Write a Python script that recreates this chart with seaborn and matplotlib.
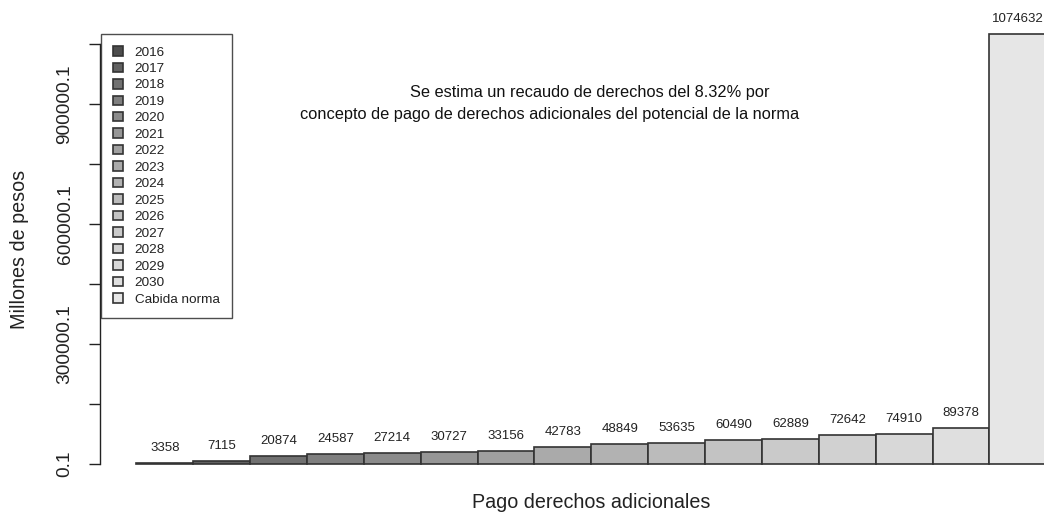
import numpy as np
import pandas as pd
import matplotlib
matplotlib.use("Agg")
import matplotlib.pyplot as plt
import seaborn as sns

# -------------------------
# Data
# -------------------------
categorias = ["2016", "2017", "2018", "2019", "2020", "2021", "2022", "2023",
              "2024", "2025", "2026", "2027", "2028", "2029", "2030", "Cabida norma"]
valores = [3358, 7115, 20874, 24587, 27214, 30727, 33156, 42783,
           48849, 53635, 60490, 62889, 72642, 74910, 89378, 1074632]
yticks = [0.1, 150000.1, 300000.1, 450000.1, 600000.1, 750000.1, 900000.1, 1050000.1]
ytick_labels = ["0.1", "", "300000.1", "", "600000.1", "", "900000.1", ""]
nota = ["Se estima un recaudo de derechos del 8.32% por",
        "concepto de pago de derechos adicionales del potencial de la norma"]

df = pd.DataFrame({"anio": categorias, "valor": valores})

# -------------------------
# Style
# -------------------------
sns.set_theme(style="white")
plt.rcParams["font.family"] = ["Liberation Sans", "DejaVu Sans"]

# grey ramp like R gray.colors(n)
g = (np.linspace(0.3 ** 2.2, 0.9 ** 2.2, len(categorias))) ** (1 / 2.2)
colores = [(v, v, v) for v in g]

W, H = 1044, 515
fig = plt.figure(figsize=(W / 100, H / 100), dpi=100)
fig.patch.set_facecolor("white")
ax = fig.add_axes([100 / W, (H - 481.2) / H, 982.7 / W, (481.2 - 17) / H])

sns.barplot(data=df, x="anio", y="valor", hue="anio", palette=colores,
            width=1.0, edgecolor="#333333", linewidth=1.2, saturation=1,
            legend=True, ax=ax)

vmax = max(valores)
ax.set_xlim(-1.14, 16.14)
ax.set_ylim(-0.04 * vmax, 1.04 * vmax)

# labels above bars
for i, v in enumerate(valores):
    ax.text(i, v + 0.035 * vmax, str(v), ha="center", va="center",
            fontsize=9.5, color="#222222")

# axes look like base R
for s in ["top", "right", "bottom"]:
    ax.spines[s].set_visible(False)
ax.spines["left"].set_bounds(yticks[0], yticks[-1])
ax.spines["left"].set_color("#222222")
ax.spines["left"].set_linewidth(1.0)
ax.set_xticks([])
ax.set_yticks(yticks)
ax.set_yticklabels(ytick_labels, rotation=90, va="center", fontsize=13.8, color="#222222")
ax.tick_params(axis="y", direction="out", length=8, width=1, color="#222222", pad=11, left=True)
ax.set_xlabel("")
ax.set_ylabel("")
ax.grid(False)

fig.text(20 / W, 1 - 249 / H, "Millones de pesos", rotation=90,
         ha="center", va="center", fontsize=14.2, color="#222222")
fig.text(591 / W, 1 - 503 / H, "Pago derechos adicionales",
         ha="center", va="center", fontsize=14.2, color="#222222")
fig.text(590 / W, 1 - 92 / H, nota[0], ha="center", va="center", fontsize=11.8, color="#111111")
fig.text(550 / W, 1 - 114 / H, nota[1], ha="center", va="center", fontsize=11.8, color="#111111")

# legend
handles, labels = ax.get_legend_handles_labels()
leg = ax.legend(handles, labels, loc="upper left",
                bbox_to_anchor=(101 / W, 1 - 34 / H), bbox_transform=fig.transFigure,
                borderaxespad=0, fontsize=9.7, frameon=True, fancybox=False,
                handlelength=0.7, handleheight=0.7, handletextpad=0.9,
                labelspacing=0.3, borderpad=0.9)
leg.get_frame().set_edgecolor("#222222")
leg.get_frame().set_linewidth(1.0)
for t in leg.get_texts():
    t.set_color("#222222")

fig.savefig("out.png", dpi=100, facecolor="white")
plt.close(fig)
